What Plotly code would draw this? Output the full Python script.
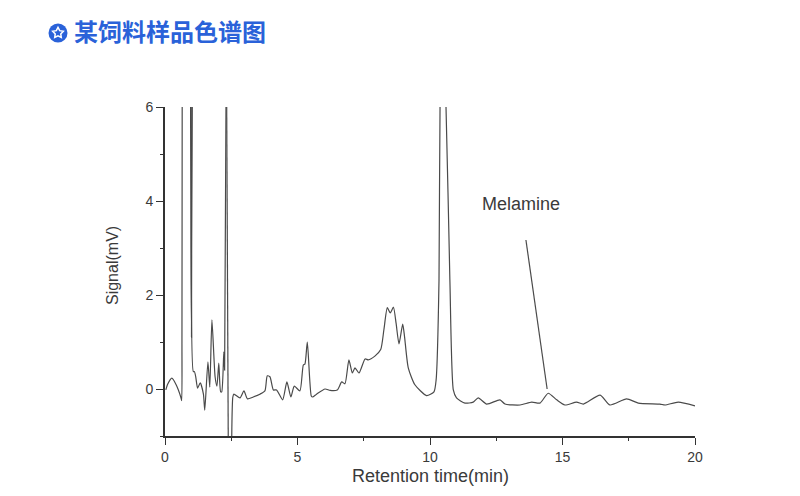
import math
import plotly.graph_objects as go

title_text = "某饲料样品色谱图"
x_title = "Retention time(min)"
y_title = "Signal(mV)"
peak_label = "Melamine"

# None marks where the trace leaves the visible range (above 6 or below -1)
retention = [0.03,0.10,0.26,0.42,0.60,0.63,0.64,0.65,None,0.96,0.98,1.00,1.02,None,1.04,1.07,1.11,1.16,1.23,1.33,1.45,1.50,1.62,1.69,1.77,1.89,1.96,2.03,2.10,2.14,2.22,2.25,2.31,None,2.32,2.39,None,2.51,2.56,2.60,2.83,2.98,3.11,3.33,3.58,3.77,3.86,3.96,4.09,4.21,4.44,4.60,4.75,4.88,5.09,5.22,5.28,5.37,5.52,5.57,5.72,6.04,6.23,6.50,6.67,6.79,6.94,7.07,7.17,7.32,7.55,7.67,7.92,8.14,8.26,8.39,8.50,8.62,8.72,8.83,8.97,9.04,9.18,9.43,9.87,10.15,10.23,10.34,10.38,10.48,10.60,10.75,10.88,11.00,11.32,11.63,11.82,12.14,12.64,12.83,13.40,13.84,14.15,14.46,14.78,15.09,15.53,15.79,16.42,16.79,17.42,17.86,18.68,18.87,19.37,20.00]
signal = [-0.02,0.10,0.23,0.09,-0.18,-0.25,1.0,7,None,7,3.0,1.10,7,None,7,0.37,0.37,0.26,0.02,0.13,-0.11,-0.45,0.58,0.04,1.47,0.26,0.06,0.55,-0.06,-0.06,0.79,0.40,7,None,7,-1.5,None,-1.5,-0.17,-0.11,-0.19,-0.04,-0.21,-0.17,-0.11,-0.04,0.28,0.26,-0.02,-0.02,-0.23,0.15,-0.17,0.06,-0.04,0.51,0.53,1.00,-0.15,-0.17,-0.11,0.00,-0.03,-0.02,0.15,0.11,0.62,0.34,0.45,0.34,0.64,0.62,0.70,0.84,1.26,1.73,1.62,1.74,1.40,0.96,1.38,1.11,0.45,0.09,-0.14,-0.06,0.19,2.32,6.1,7.5,6.1,2.32,-0.02,-0.19,-0.30,-0.28,-0.19,-0.32,-0.23,-0.32,-0.34,-0.28,-0.30,-0.09,-0.23,-0.34,-0.28,-0.32,-0.13,-0.34,-0.21,-0.30,-0.32,-0.34,-0.28,-0.36]

pointer_x = [13.62, 14.42]
pointer_y = [3.17, 0.0]

OFF = 8
L, R, T, B = 165 - OFF, 695 - OFF, 107 - OFF, 436 - OFF
W, H = 800 - 2 * OFF, 496 - 2 * OFF
def px(v): return (v - OFF - L) / (R - L)
def py(v): return (B - (v - OFF)) / (B - T)

BLUE = "#2a62d9"
INK = "#3a3a3a"

fig = go.Figure()
fig.add_trace(go.Scatter(x=retention, y=signal, mode="lines", connectgaps=False,
                         line=dict(color="#4a4a4a", width=1.2, shape="spline", smoothing=0.6),
                         showlegend=False))
fig.add_trace(go.Scatter(x=pointer_x, y=pointer_y, mode="lines",
                         line=dict(color="#4a4a4a", width=1.2), showlegend=False))

cx, cy, r = 58, 33, 9.5
star = []
for i in range(10):
    a = -math.pi / 2 + i * math.pi / 5
    rad = 5.6 if i % 2 == 0 else 2.9
    star.append((cx + rad * math.cos(a), cy + rad * math.sin(a)))
star_path = "M " + " L ".join(f"{px(a):.5f},{py(b):.5f}" for a, b in star) + " Z"

shapes = [
    dict(type="circle", xref="paper", yref="paper", x0=px(cx - r), x1=px(cx + r),
         y0=py(cy + r), y1=py(cy - r), fillcolor=BLUE, line=dict(width=0)),
    dict(type="path", xref="paper", yref="paper", path=star_path,
         fillcolor=BLUE, line=dict(color="white", width=1.5)),
]

annotations = [
    dict(text=f"<b>{title_text}</b>", xref="paper", yref="paper", x=px(72), y=py(30),
         xanchor="left", yanchor="middle", showarrow=False,
         font=dict(family="Noto Sans CJK SC", size=24, color=BLUE)),
    dict(text=peak_label, x=(521 - 165) / 26.5, y=(389 - 204) / 47, xref="x", yref="y",
         showarrow=False, xanchor="center", yanchor="middle",
         font=dict(family="Liberation Sans", size=18, color=INK)),
    dict(text=x_title, xref="paper", yref="paper", x=px(430), y=py(476),
         showarrow=False, xanchor="center", yanchor="middle",
         font=dict(family="Liberation Sans", size=18, color=INK)),
    dict(text=y_title, xref="paper", yref="paper", x=px(112), y=py(266), textangle=-90,
         showarrow=False, xanchor="center", yanchor="middle",
         font=dict(family="Liberation Sans", size=16, color=INK)),
]

fig.update_layout(
    width=W, height=H, autosize=False,
    margin=dict(l=L, r=W - R, t=T, b=H - B, pad=0),
    paper_bgcolor="white", plot_bgcolor="white",
    font=dict(family="Liberation Sans", size=14, color=INK),
    shapes=shapes, annotations=annotations, showlegend=False,
    xaxis=dict(range=[0, 20], dtick=5, tick0=0, showgrid=False, zeroline=False,
               showline=True, linecolor="#333333", linewidth=1.6, automargin=False,
               ticks="outside", ticklen=7, tickwidth=1.4, tickcolor="#333333",
               tickfont=dict(size=14, color=INK),
               minor=dict(dtick=2.5, ticks="outside", ticklen=3, tickwidth=1.4,
                          tickcolor="#333333", showgrid=False)),
    yaxis=dict(range=[-1, 6], tickvals=[0, 2, 4, 6], showgrid=False, zeroline=False,
               showline=True, linecolor="#333333", linewidth=1.6, automargin=False,
               ticks="outside", ticklen=7, tickwidth=1.4, tickcolor="#333333",
               tickfont=dict(size=14, color=INK),
               minor=dict(tickvals=[-1, 1, 3, 5], ticks="outside", ticklen=3, tickwidth=1.4,
                          tickcolor="#333333", showgrid=False)),
)

fig.write_html("out.html", config=dict(displayModeBar=False))
